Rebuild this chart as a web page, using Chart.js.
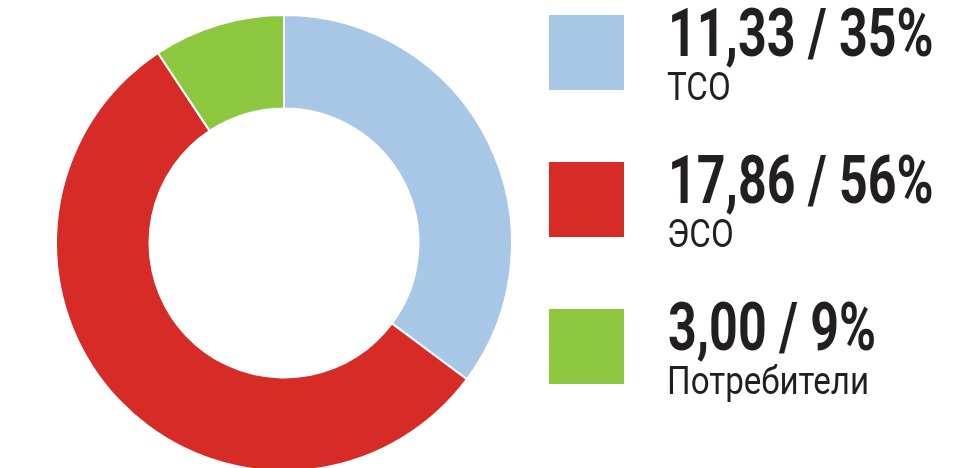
<!DOCTYPE html>
<html>
<head>
<meta charset="utf-8">
<script src="https://cdn.jsdelivr.net/npm/chart.js@4/dist/chart.umd.min.js"></script>
<style>
  body { margin: 0; background: #fff; width: 953px; height: 468px; overflow: hidden; position: relative; font-family: Roboto, "Liberation Sans", sans-serif; color: #231f20; }
  #wrap { position: absolute; left: 0; top: 0; width: 568px; height: 474px; }
  .item { position: absolute; left: 549px; }
  .sw { position: absolute; left: 0; top: 0; width: 75px; height: 75px; }
  .val { position: absolute; left: 119px; top: -14px; font-size: 66px; font-weight: 700; white-space: nowrap; transform-origin: 0 0; transform: scaleX(0.76); line-height: 1; }
  .lab { position: absolute; left: 118px; top: 53px; font-size: 39px; white-space: nowrap; transform-origin: 0 0; transform: scaleX(0.85); line-height: 1; }
</style>
</head>
<body>
<div id="wrap"><canvas id="c"></canvas></div>
<div id="legend"></div>
<script>
var labels = ['ТСО', 'ЭСО', 'Потребители'];
var values = [11.33, 17.86, 3.00];
var shares = [35, 56, 9];
var colors = ['#a8c6e6', '#d72b27', '#8dc63f'];

function fmt(v) { return v.toFixed(2).replace('.', ','); }

var legend = document.getElementById('legend');
labels.forEach(function (l, i) {
  var d = document.createElement('div');
  d.className = 'item';
  d.style.top = (15 + i * 147) + 'px';
  d.innerHTML = '<div class="sw" style="background:' + colors[i] + '"></div>' +
    '<div class="val">' + fmt(values[i]) + ' / ' + shares[i] + '%</div>' +
    '<div class="lab">' + l + '</div>';
  legend.appendChild(d);
});

var ctx = document.getElementById('c').getContext('2d');
var myChart = new Chart(ctx, {
  type: 'doughnut',
  data: {
    labels: labels,
    datasets: [{
      data: values,
      backgroundColor: colors,
      borderColor: '#ffffff',
      borderWidth: 2
    }]
  },
  options: {
    responsive: true,
    maintainAspectRatio: false,
    animation: false,
    cutout: '59%',
    layout: { padding: { top: 14, bottom: 2 } },
    plugins: { legend: { display: false }, tooltip: { enabled: false } }
  }
});
</script>
</body>
</html>
